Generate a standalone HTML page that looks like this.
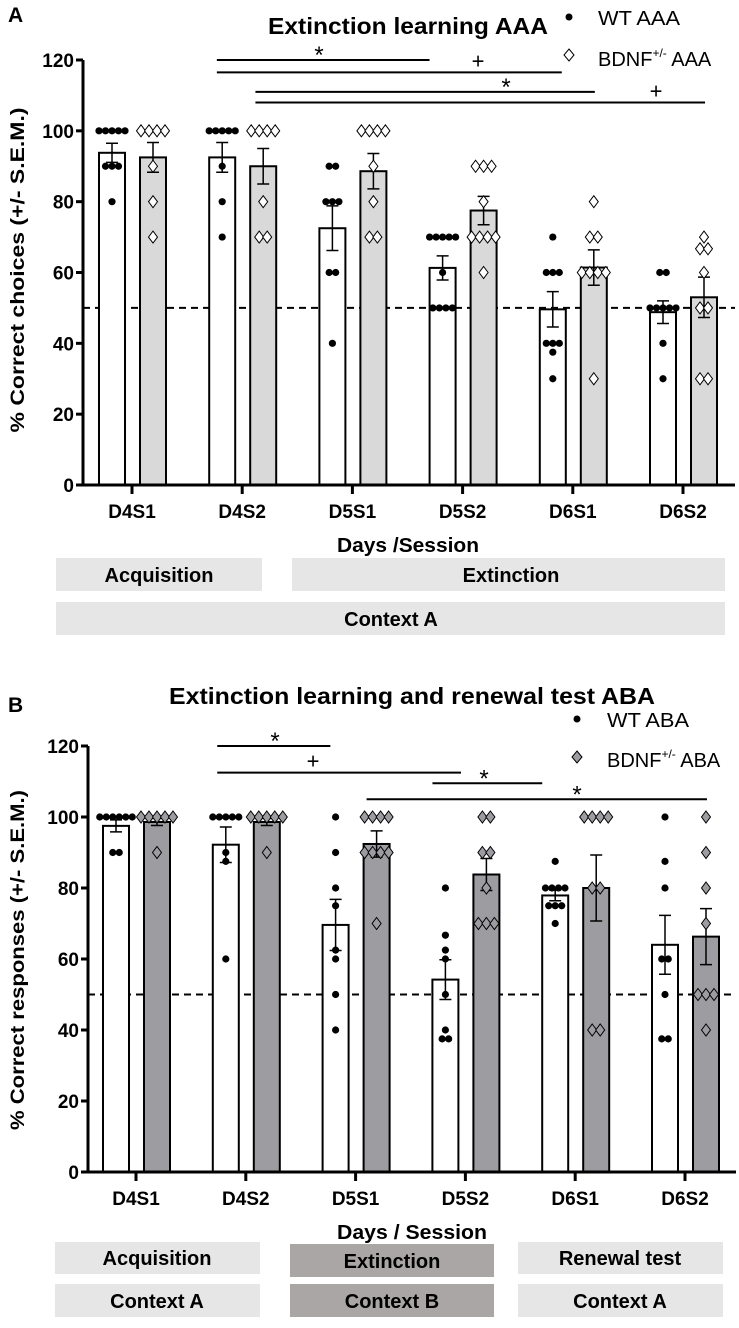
<!DOCTYPE html>
<html><head><meta charset="utf-8"><style>
body{margin:0;background:#fff;}
svg{display:block;font-family:"Liberation Sans",sans-serif;}
.t{font-weight:bold;}
</style></head><body>
<svg id="fig" width="739" height="1328" viewBox="0 0 739 1328" xmlns="http://www.w3.org/2000/svg">
<rect x="0" y="0" width="739" height="1328" fill="#fff"/>
<!-- Panel A static text -->
<text x="8" y="22" font-size="21" class="t">A</text>
<text x="268" y="34" font-size="23" class="t" textLength="280" lengthAdjust="spacingAndGlyphs">Extinction learning AAA</text>
<circle cx="569" cy="17" r="3.5" fill="#000"/>
<text x="598" y="25" font-size="20" textLength="82" lengthAdjust="spacingAndGlyphs">WT AAA</text>
<path d="M569 49 L574 55 L569 61 L564 55 Z" fill="#fff" stroke="#000" stroke-width="1"/>
<text x="598" y="66" font-size="20">BDNF<tspan font-size="12" dy="-9">+/-</tspan><tspan dy="9"> AAA</tspan></text>
<text transform="translate(24,270) rotate(-90)" font-size="19" class="t" text-anchor="middle" textLength="325" lengthAdjust="spacingAndGlyphs">% Correct choices (+/- S.E.M.)</text>
<text x="337" y="552" font-size="20" class="t" textLength="142" lengthAdjust="spacingAndGlyphs">Days /Session</text>
<rect x="56" y="558" width="206" height="33" fill="#e6e6e6"/>
<text x="159" y="582" font-size="20" class="t" text-anchor="middle">Acquisition</text>
<rect x="292" y="558" width="433" height="33" fill="#e6e6e6"/>
<text x="511" y="582" font-size="20" class="t" text-anchor="middle">Extinction</text>
<rect x="56" y="602" width="669" height="33" fill="#e6e6e6"/>
<text x="391" y="626" font-size="20" class="t" text-anchor="middle">Context A</text>

<!-- Panel B static text -->
<text x="8" y="712" font-size="21" class="t">B</text>
<text x="169" y="704" font-size="23" class="t" textLength="486" lengthAdjust="spacingAndGlyphs">Extinction learning and renewal test ABA</text>
<circle cx="577" cy="719" r="3.5" fill="#000"/>
<text x="607" y="727" font-size="20" textLength="82" lengthAdjust="spacingAndGlyphs">WT ABA</text>
<path d="M577 751 L582 757 L577 763 L572 757 Z" fill="#9d9ca1" stroke="#000" stroke-width="1"/>
<text x="607" y="767" font-size="20">BDNF<tspan font-size="12" dy="-9">+/-</tspan><tspan dy="9"> ABA</tspan></text>
<text transform="translate(24,960) rotate(-90)" font-size="19" class="t" text-anchor="middle" textLength="340" lengthAdjust="spacingAndGlyphs">% Correct responses (+/- S.E.M.)</text>
<text x="337" y="1239" font-size="20" class="t" textLength="150" lengthAdjust="spacingAndGlyphs">Days / Session</text>
<rect x="55" y="1242" width="205" height="32" fill="#e6e6e6"/>
<text x="157" y="1265" font-size="20" class="t" text-anchor="middle">Acquisition</text>
<rect x="290" y="1244" width="204" height="33" fill="#aaa6a6"/>
<text x="392" y="1268" font-size="20" class="t" text-anchor="middle">Extinction</text>
<rect x="518" y="1242" width="205" height="32" fill="#e6e6e6"/>
<text x="620" y="1265" font-size="20" class="t" text-anchor="middle">Renewal test</text>
<rect x="55" y="1284" width="205" height="33" fill="#e6e6e6"/>
<text x="157" y="1308" font-size="20" class="t" text-anchor="middle">Context A</text>
<rect x="290" y="1284" width="204" height="33" fill="#aaa6a6"/>
<text x="392" y="1308" font-size="20" class="t" text-anchor="middle">Context B</text>
<rect x="518" y="1284" width="205" height="33" fill="#e6e6e6"/>
<text x="620" y="1308" font-size="20" class="t" text-anchor="middle">Context A</text>
<g id="dyn"></g>
</svg>
<script>
const categories = ["D4S1","D4S2","D5S1","D5S2","D6S1","D6S2"];
const yTicks = [0,20,40,60,80,100,120];
// Panel A
const wtMeanA = [93.8,92.5,72.5,61.3,49.6,48.8];
const wtSemA = [2.7,4.2,6.3,3.4,5.0,3.2];
const bdMeanA = [92.5,90,88.6,77.5,61.4,53];
const bdSemA = [4.2,5,5,4,5,5.7];
const wtPtsA = [[100,100,100,100,100,90,90,90,80],[100,100,100,100,100,90,80,70],[90,90,80,80,80,60,60,40],[70,70,70,70,70,60,50,50,50,50],[70,60,60,60,40,40,40,37.5,30],[60,60,50,50,50,50,50,40,30]];
const bdPtsA = [[100,100,100,100,90,80,70],[100,100,100,100,80,70,70],[100,100,100,100,90,80,70,70],[90,90,90,80,70,70,70,70,60],[80,70,70,60,60,60,60,30],[70,66.7,66.7,60,50,50,30,30]];
// Panel B
const wtMeanB = [97.5,92.2,69.6,54.2,77.9,64];
const wtSemB = [1.7,5,7.2,5.6,1.5,8.3];
const bdMeanB = [98.6,98.6,92.4,83.8,80,66.3];
const bdSemB = [1,1,3.7,4.5,9.3,7.9];
const wtPtsB = [[100,100,100,100,100,100,90,90],[100,100,100,100,100,90,87.5,60],[100,90,80,75,62.5,60,50,40],[80,66.7,62.5,60,50,40,37.5,37.5],[87.5,80,80,80,80,75,75,75,70],[100,87.5,80,60,60,50,37.5,37.5]];
const bdPtsB = [[100,100,100,100,100,90],[100,100,100,100,100,90],[100,100,100,100,90,90,90,90,70],[100,100,90,90,80,70,70,70],[100,100,100,100,80,80,40,40],[100,90,80,70,50,50,50,40]];
// significance brackets: [fromCat, toCat, symbol]
const sigA = [[0.77,2.7,"*"],[0.77,3.9,"+"],[1.12,4.2,"*"],[1.12,5.2,"+"]];
const sigB = [[0.74,1.77,"*"],[0.74,2.96,"+"],[2.7,3.7,"*"],[2.1,5.2,"*"]];
const sigYA=[120,116.5,111,108], sigYB=[120,112.5,109.5,105];

const NS="http://www.w3.org/2000/svg";
const root=document.getElementById('dyn');
function mk(tag,attrs,parent){const e=document.createElementNS(NS,tag);for(const k in attrs)e.setAttribute(k,attrs[k]);(parent||root).appendChild(e);return e;}

function panel(cfg){
  const g=mk('g',{});
  
  
  const y=v=>cfg.y0-(v/120)*(cfg.y0-cfg.y120);
  const x=i=>cfg.x0+i*cfg.step;
  const dl=mk('line',{x1:cfg.ax,x2:cfg.xEnd,y1:y(50),y2:y(50),stroke:'#000','stroke-width':2,'stroke-dasharray':'7,5'},g);
  
  
  function bars(means,sems,pts,off,fill,ptFill,isDiamond,series){
    means.forEach((m,i)=>{
      const cx=x(i)+off;
      const b=mk('rect',{x:cx-13,y:y(m),width:26,height:y(0)-y(m),fill:fill,stroke:'#000','stroke-width':2},g);
      
      
      const e=mk('path',{d:`M${cx} ${y(m-sems[i])}V${y(m+sems[i])}M${cx-6} ${y(m+sems[i])}H${cx+6}M${cx-6} ${y(m-sems[i])}H${cx+6}`,stroke:'#000','stroke-width':1.5,fill:'none'},g);
      
      
      const counts={};pts[i].forEach(v=>counts[v]=(counts[v]||0)+1);
      const seen={};
      pts[i].forEach(v=>{
        const n=counts[v];seen[v]=(seen[v]||0);const k=seen[v]++;
        const sp=isDiamond?8:6.5;
        const px=cx+(k-(n-1)/2)*sp, py=y(v);
        let p;
        if(isDiamond) p=mk('path',{d:`M${px} ${py-6}L${px+4.5} ${py}L${px} ${py+6}L${px-4.5} ${py}Z`,fill:ptFill,stroke:'#000','stroke-width':1},g);
        else p=mk('circle',{cx:px,cy:py,r:3.6,fill:'#000'},g);
        
        
      });
    });
  }
  bars(cfg.wtM,cfg.wtS,cfg.wtP,-20,'#fff','#000',false,'wt');
  bars(cfg.bdM,cfg.bdS,cfg.bdP,21,cfg.bdFill,cfg.ptFill,true,'bdnf');
  const ya=mk('line',{x1:cfg.ax,x2:cfg.ax,y1:y(120),y2:y(0)+1,stroke:'#000','stroke-width':3},g);
  
  
  const xa=mk('line',{x1:cfg.ax-1,x2:cfg.xEnd,y1:y(0),y2:y(0),stroke:'#000','stroke-width':3},g);
  
  
  yTicks.forEach(t=>{
    mk('line',{x1:cfg.ax-7,x2:cfg.ax,y1:y(t),y2:y(t),stroke:'#000','stroke-width':3},g);
    const tl=mk('text',{x:cfg.ax-9,y:y(t)+7,'font-size':19,'font-weight':'bold','text-anchor':'end'},g);
    tl.textContent=t;
    
    
  });
  categories.forEach((c,i)=>{
    mk('line',{x1:x(i),x2:x(i),y1:y(0),y2:y(0)+9,stroke:'#000','stroke-width':3},g);
    const tl=mk('text',{x:x(i),y:y(0)+33,'font-size':19,'font-weight':'bold','text-anchor':'middle'},g);
    tl.textContent=c;
    
    
  });
  cfg.sig.forEach((s,k)=>{
    const yy=y(cfg.sigY[k]);
    const x1=x(s[0]),x2=x(s[1]);
    const l=mk('line',{x1:x1,x2:x2,y1:yy,y2:yy,stroke:'#000','stroke-width':2},g);
    
    
    const sx=cfg.symX[k];
    const t=mk('text',{x:sx,y:yy-(s[2]=="*"?-3:4),'font-size':s[2]=="*"?24:22,'text-anchor':'middle'},g);
    t.textContent=s[2];
    
    
  });
}
panel({name:'chart-a',y0:485,y120:60,x0:132,step:110.2,ax:83,xEnd:735,wtM:wtMeanA,wtS:wtSemA,bdM:bdMeanA,bdS:bdSemA,wtP:wtPtsA,bdP:bdPtsA,bdFill:'#d9d9d9',ptFill:'#fff',sig:sigA,sigY:sigYA,symX:[319,478,506,656]});
panel({name:'chart-b',y0:1172,y120:746,x0:136,step:109.8,ax:88,xEnd:736,wtM:wtMeanB,wtS:wtSemB,bdM:bdMeanB,bdS:bdSemB,wtP:wtPtsB,bdP:bdPtsB,bdFill:'#9d9ca1',ptFill:'#9d9ca1',sig:sigB,sigY:sigYB,symX:[275,313,484,577]});
</script>
</body></html>
